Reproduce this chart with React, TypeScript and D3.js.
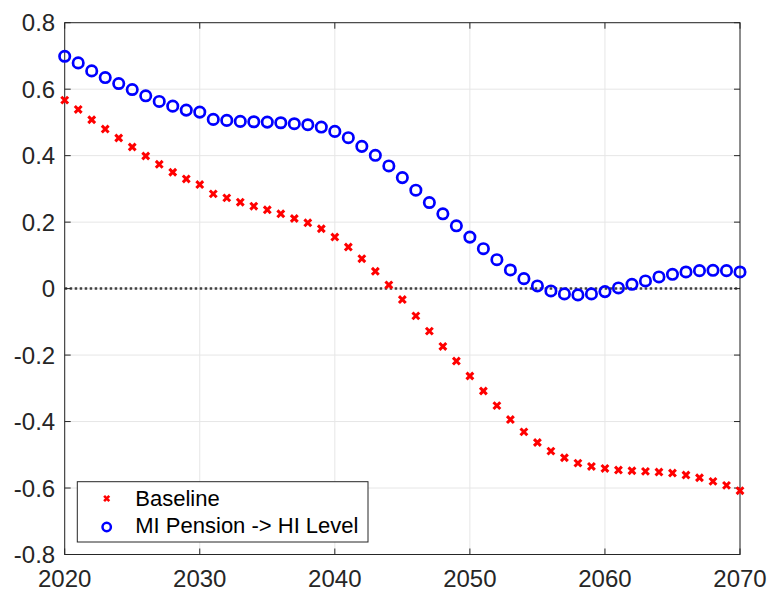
import React, { useEffect, useRef } from 'react';
import * as d3 from 'd3';

// years 2020..2070
const years: number[] = d3.range(2020, 2071);

const baseline: number[] = [
  0.567, 0.539, 0.508, 0.480, 0.453, 0.426, 0.399, 0.374, 0.350, 0.330,
  0.313, 0.285, 0.273, 0.260, 0.248, 0.237, 0.225, 0.211, 0.198, 0.180,
  0.155, 0.125, 0.090, 0.052, 0.011, -0.033, -0.082, -0.128, -0.174, -0.218,
  -0.263, -0.308, -0.352, -0.394, -0.431, -0.463, -0.489, -0.509, -0.525, -0.535,
  -0.541, -0.546, -0.548, -0.550, -0.552, -0.555, -0.561, -0.569, -0.580, -0.592,
  -0.608,
];

const miPension: number[] = [
  0.699, 0.679, 0.655, 0.635, 0.617, 0.599, 0.580, 0.563, 0.549, 0.537,
  0.531, 0.509, 0.506, 0.503, 0.502, 0.501, 0.499, 0.496, 0.493, 0.486,
  0.473, 0.454, 0.428, 0.401, 0.369, 0.334, 0.296, 0.259, 0.225, 0.189,
  0.155, 0.120, 0.087, 0.056, 0.030, 0.008, -0.007, -0.016, -0.019, -0.016,
  -0.009, 0.002, 0.013, 0.023, 0.035, 0.043, 0.050, 0.054, 0.055, 0.054,
  0.050,
];

const xTicks = [2020, 2030, 2040, 2050, 2060, 2070];
const yTicks = [-0.8, -0.6, -0.4, -0.2, 0, 0.2, 0.4, 0.6, 0.8];
const yTickLabels = ['-0.8', '-0.6', '-0.4', '-0.2', '0', '0.2', '0.4', '0.6', '0.8'];
const legendLabels = ['Baseline', 'MI Pension -> HI Level'];

const W = 769;
const H = 592;

const App: React.FC = () => {
  const ref = useRef<SVGSVGElement>(null);

  useEffect(() => {
    if (!ref.current) return;
    const svg = d3.select(ref.current);
    svg.selectAll('*').remove();

    const left = 64.7, right = 740, top = 22.7, bottom = 554.5;
    const x = d3.scaleLinear().domain([2020, 2070]).range([left, right]);
    const y = d3.scaleLinear().domain([-0.8, 0.8]).range([bottom, top]);
    const font = '"Liberation Sans", Arial, Helvetica, sans-serif';
    const axisColor = '#262626';

    // grid
    const grid = svg.append('g');
    xTicks.forEach(t => {
      grid.append('line')
        .attr('x1', x(t)).attr('x2', x(t))
        .attr('y1', top).attr('y2', bottom)
        .attr('stroke', '#e6e6e6').attr('stroke-width', 1);
    });
    yTicks.forEach(t => {
      grid.append('line')
        .attr('x1', left).attr('x2', right)
        .attr('y1', y(t)).attr('y2', y(t))
        .attr('stroke', '#e6e6e6').attr('stroke-width', 1);
    });

    // zero line dotted
    svg.append('line')
      .attr('x1', left).attr('x2', right)
      .attr('y1', y(0)).attr('y2', y(0))
      .attr('stroke', '#404040')
      .attr('stroke-width', 2.5)
      .attr('stroke-dasharray', '2.5,2.5');

    // box + ticks
    const box = svg.append('g').attr('stroke', axisColor).attr('stroke-width', 1);
    box.append('rect')
      .attr('x', left).attr('y', top)
      .attr('width', right - left).attr('height', bottom - top)
      .attr('fill', 'none');
    const tl = 6;
    xTicks.forEach(t => {
      box.append('line').attr('x1', x(t)).attr('x2', x(t)).attr('y1', bottom).attr('y2', bottom - tl);
      box.append('line').attr('x1', x(t)).attr('x2', x(t)).attr('y1', top).attr('y2', top + tl);
    });
    yTicks.forEach(t => {
      box.append('line').attr('x1', left).attr('x2', left + tl).attr('y1', y(t)).attr('y2', y(t));
      box.append('line').attr('x1', right).attr('x2', right - tl).attr('y1', y(t)).attr('y2', y(t));
    });

    // tick labels
    svg.append('g').selectAll('text').data(xTicks).join('text')
      .attr('x', d => x(d)).attr('y', bottom + 32)
      .attr('text-anchor', 'middle')
      .attr('font-family', font).attr('font-size', 24)
      .attr('fill', axisColor)
      .text(d => String(d));
    svg.append('g').selectAll('text').data(yTicks).join('text')
      .attr('x', left - 9.5).attr('y', d => y(d) + 8.7)
      .attr('text-anchor', 'end')
      .attr('font-family', font).attr('font-size', 24)
      .attr('fill', axisColor)
      .text((_, i) => yTickLabels[i]);

    const cross = (g: d3.Selection<SVGGElement, unknown, null, undefined>, cx: number, cy: number, s: number, w: number) => {
      g.append('path')
        .attr('d', `M${cx - s},${cy - s}L${cx + s},${cy + s}M${cx - s},${cy + s}L${cx + s},${cy - s}`)
        .attr('stroke', '#ff0000').attr('stroke-width', w).attr('fill', 'none');
    };

    // series
    const red = svg.append('g');
    baseline.forEach((v, i) => cross(red, x(years[i]), y(v), 3.4, 3));

    svg.append('g').selectAll('circle').data(miPension).join('circle')
      .attr('cx', (_, i) => x(years[i])).attr('cy', d => y(d))
      .attr('r', 5.2)
      .attr('fill', 'none').attr('stroke', '#0000ff').attr('stroke-width', 2.7);

    // legend
    const lg = svg.append('g');
    lg.append('rect')
      .attr('x', 77.3).attr('y', 481.7)
      .attr('width', 290.7).attr('height', 60.3)
      .attr('fill', '#ffffff').attr('stroke', axisColor).attr('stroke-width', 1);
    cross(lg, 106.7, 498.5, 2.6, 2.6);
    lg.append('circle')
      .attr('cx', 106.7).attr('cy', 527)
      .attr('r', 4.2)
      .attr('fill', 'none').attr('stroke', '#0000ff').attr('stroke-width', 2.5);
    legendLabels.forEach((l, i) => {
      lg.append('text')
        .attr('x', 135.3).attr('y', 505.7 + i * 27.6)
        .attr('font-family', font).attr('font-size', 22)
        .attr('fill', '#000000')
        .text(l);
    });
  }, []);

  return (
    <svg
      ref={ref}
      width={W}
      height={H}
      style={{ position: 'absolute', left: 0, top: 0, background: '#fff' }}
    />
  );
};

export default App;
